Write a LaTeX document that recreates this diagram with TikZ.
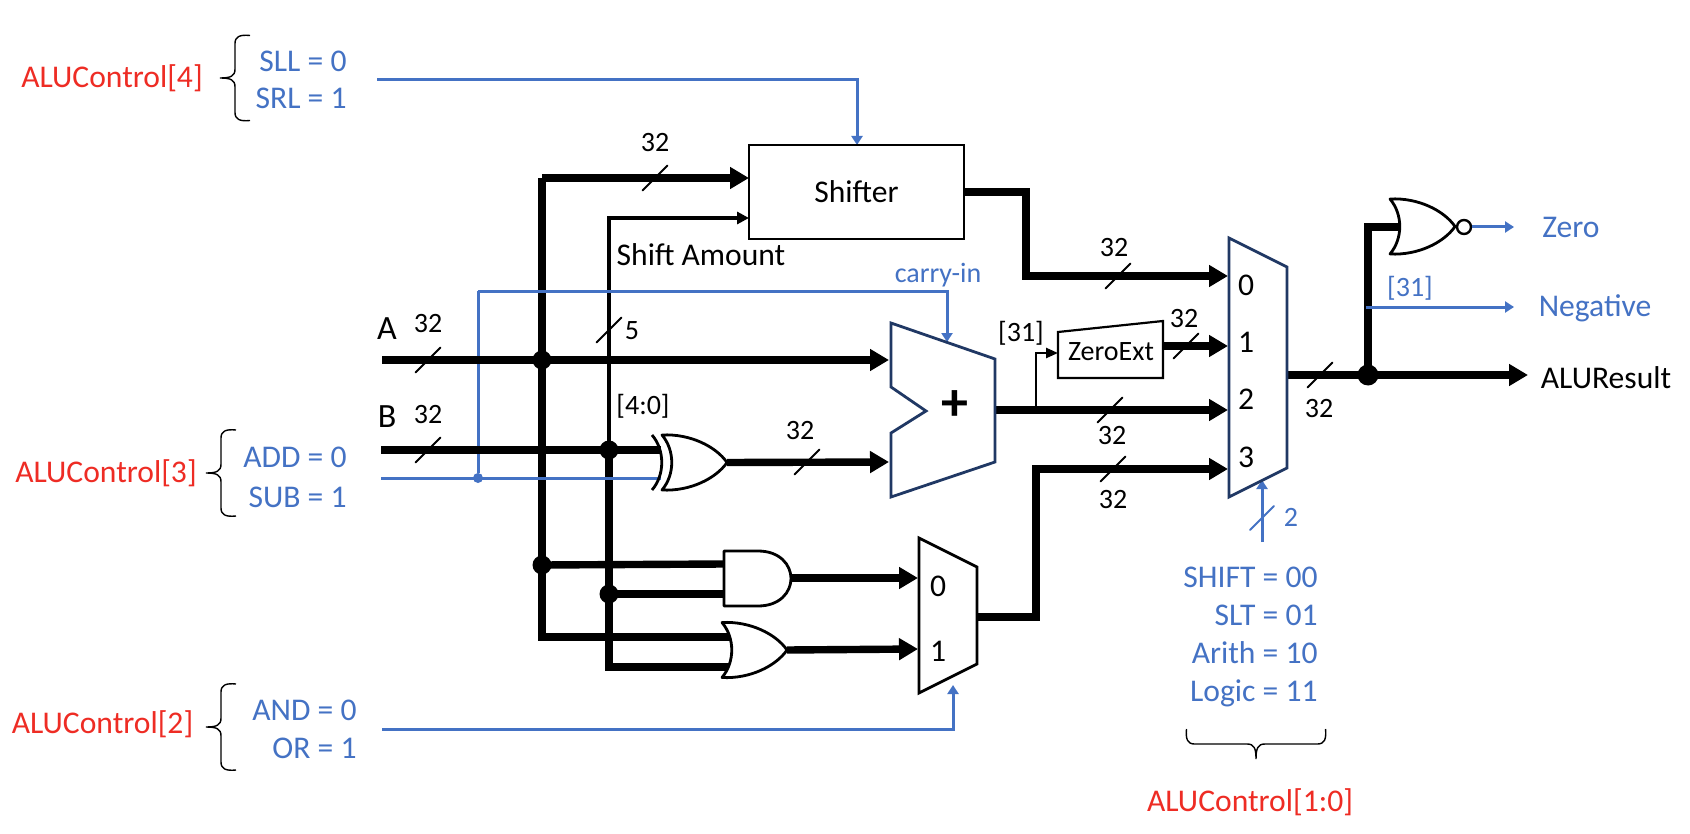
\documentclass[tikz,border=0pt]{standalone}
\usepackage{fontspec}
\setmainfont{Carlito}
\usetikzlibrary{arrows.meta, calc}
\definecolor{ALUBlue}{RGB}{68, 114, 196}
\definecolor{ALURed}{RGB}{238, 44, 36}
\definecolor{ALUNavy}{RGB}{32, 56, 100}
\tikzset{
  bigtxt/.style={font=\fontsize{15.8}{18}\selectfont, inner sep=0pt},
  smalltxt/.style={font=\fontsize{14}{16}\selectfont, inner sep=0pt},
  bluetxt/.style={bigtxt, text=ALUBlue},
  redtxt/.style={bigtxt, text=ALURed},
  buswire/.style={line width=3.7pt},
  buswirearrow/.style={buswire, -{Triangle[length=9.5pt,width=10.5pt]}},
  midwire/.style={line width=1.9pt},
  ctrlwire/.style={ALUBlue, line width=1.5pt},
  ctrlarrow/.style={ctrlwire, -{Triangle[length=4.5pt,width=5.5pt]}},
  unitline/.style={draw=black, fill=white, line width=1.4pt},
  navyline/.style={draw=ALUNavy, fill=white, line width=1.4pt},
  slashmark/.style={line width=1pt, line cap=round},
  junction/.style={circle, fill=black, inner sep=0pt, minimum size=9.5pt},
  orbody/.pic={
    \draw[unitline, line join=round] (0,-27.5) .. controls (28,-29) and (54,-16) .. (65,0) .. controls (54,16) and (28,29) .. (0,27.5)
      .. controls (13,12) and (13,-12) .. (0,-27.5) -- cycle;
    \coordinate (-out) at (65,0);
  },
  pics/sidebrace/.style={code={
    \draw[line width=0.7pt] (30,-#1) .. controls (20,-#1-1) and (15,-#1+1) .. (15,-#1+8) -- (15,-9)
      .. controls (15,-2) and (11,0) .. (0,0) .. controls (11,0) and (15,2) .. (15,9) -- (15,#1-8)
      .. controls (15,#1-1) and (20,#1+1) .. (30,#1);
  }}
}
\begin{document}
\begin{tikzpicture}[x=0.5pt,y=-0.5pt]
  \path[use as bounding box] (0,0) rectangle (1690,834);
  \fill[white] (0,0) rectangle (1690,834);

  % junctions and pins
  \node[junction] (ja) at (542,360) {};
  \node[junction] (jaand) at (542,565) {};
  \node[junction] (jb) at (609,450) {};
  \node[junction] (jband) at (609,594) {};
  \node[junction, minimum size=10.5pt] (jres) at (1368,375) {};
  \node[circle, fill=ALUBlue, inner sep=0pt, minimum size=5pt] (jsub) at (478,478) {};
  \coordinate (ain) at (382,360);
  \coordinate (bin) at (381,450);
  \coordinate (subin) at (381,478);
  \coordinate (xorb) at (661,450);
  \coordinate (xorsub) at (661,478);
  \coordinate (carrybend) at (478,291);
  \coordinate (addera) at (889,360);
  \coordinate (adderb) at (889,462);
  \coordinate (adderc) at (947,342);
  \coordinate (adderout) at (995,410);
  \coordinate (shiftin) at (749,178);
  \coordinate (shiftamt) at (749,218);
  \coordinate (shiftctrl) at (377,80);
  \coordinate (andin1) at (724,564);
  \coordinate (andin2) at (724,594);
  \coordinate (andout) at (791,578);
  \coordinate (orin1) at (731,637);
  \coordinate (orin2) at (731,667);
  \coordinate (logic0) at (918,578);
  \coordinate (logic1) at (918,649);
  \coordinate (logicout) at (977,617);
  \coordinate (logicsel) at (953,685);
  \coordinate (logicctrl) at (382,729);
  \coordinate (mux0) at (1228,276);
  \coordinate (mux1) at (1228,346);
  \coordinate (mux2) at (1228,410);
  \coordinate (mux3) at (1228,469);
  \coordinate (muxout) at (1287,375);
  \coordinate (muxsel) at (1262,480);
  \coordinate (muxctrl) at (1262,542);
  \coordinate (ext31) at (1036,410);
  \coordinate (extin) at (1058,353);
  \coordinate (extout) at (1163,346);
  \coordinate (norin) at (1402,227);
  \coordinate (negstart) at (1366,307);
  \coordinate (negend) at (1514,307);
  \coordinate (zeroend) at (1514,227);
  \coordinate (resend) at (1528,375);

  % control wires under the data wires
  \draw[ctrlwire] (jsub) -- (carrybend);

  % data wires
  \draw[midwire, -{Triangle[length=6pt,width=6pt]}] (jb.center) |- (shiftamt);
  \draw[buswire] (ain) -- (ja.center);
  \draw[buswire] (bin) -- (xorb);
  \draw[buswirearrow] (ain) -- (addera);
  \draw[buswire] (jb.center) |- (orin2);
  \draw[buswire] (ja.center |- shiftin) |- (orin1);
  \draw[buswirearrow] (ja.center |- shiftin) -- (shiftin);
  \draw[buswire] (jaand.center) -- (andin1);
  \draw[buswire] (jband.center) -- (andin2);
  \draw[buswirearrow] (andout) -- (logic0);
  \draw[buswirearrow] (adderout) -- (mux2);
  \draw[buswirearrow] (extout) -- (mux1);
  \draw[line width=1.2pt, -{Triangle[length=6pt,width=5pt]}] (ext31) |- (extin);
  \draw[buswire] (muxout) -- (jres.center);
  \draw[buswirearrow] (jres.center) -- (resend);
  \draw[buswire] (jres.center) |- (norin);

  % control wires over the data wires
  \draw[ctrlwire] (subin) -- (xorsub);
  \draw[ctrlarrow] (carrybend) -| (adderc);
  \draw[ctrlarrow] (shiftctrl) -| (857,145);
  \draw[ctrlarrow] (logicctrl) -| (logicsel);
  \draw[ctrlarrow] (muxctrl) -- (muxsel);
  \draw[ctrlarrow] (negstart) -- (negend);

  % units
  \node[draw=black, line width=1.4pt, fill=white, minimum width=107.5pt, minimum height=47pt, inner sep=0pt, bigtxt] (shifter) at (856.5,192) {Shifter};
  \draw[buswirearrow] (shifter.east) -| (1026,276) -- (mux0);
  \draw[buswirearrow] (logicout) -| (1036,469) -- (mux3);

  \draw[navyline] (891,323) -- (995,359) -- (995,462) -- (891,497) -- (891,433) -- (926,411) -- (891,387) -- cycle;
  \node[font=\fontsize{27}{29}\selectfont\bfseries, inner sep=0pt] (plus) at (955,406) {+};
  \draw[navyline] (1229,238) -- (1287,267) -- (1287,468) -- (1229,497) -- cycle;
  \draw[unitline] (919,538) -- (977,567) -- (977,664) -- (919,693) -- cycle;
  \draw[line width=1.1pt, fill=white] (1058,332) -- (1163,321) -- (1163,378) -- (1058,378) -- cycle;
  \node[font=\fontsize{14}{16}\selectfont, inner sep=0pt] (zeroext) at (1111,352) {ZeroExt};

  % gates
  \draw[unitline, line join=round] (724,551) -- (758,551) .. controls (780,551) and (791,565) .. (791,578.5)
    .. controls (791,592) and (780,606) .. (758,606) -- (724,606) -- cycle;
  \pic (orgate) at (722,650) {orbody};
  \pic (xorgate) at (662,462.5) {orbody};
  \draw[line width=1.4pt] (652,435) .. controls (665,450) and (665,475) .. (652,490);
  \pic (norgate) at (1390,226.5) {orbody};
  \draw[buswirearrow] (orgate-out) -- (logic1);
  \draw[buswirearrow] (xorgate-out) -- (adderb);
  \node[circle, draw=black, fill=white, line width=1.2pt, inner sep=0pt, minimum size=7pt] (norbubble) at (1464,227) {};
  \draw[ctrlarrow] (norbubble) -- (zeroend);

  % bus width marks
  \foreach \x/\y in {428/360, 428/450, 655/178, 807/462, 1118/276, 1186/346, 1110/410, 1113/469, 1320/375, 609/330}
    \draw[slashmark] (\x-12.5,\y+12.5) -- (\x+12.5,\y-12.5);
  \draw[slashmark, ALUBlue] (1250,530) -- (1274,506);

  % bus width labels
  \foreach \x/\y [count=\i] in {428/324, 428/415, 655/143, 800/431, 1114/248, 1184/319, 1112/436, 1113/500, 1319/409}
    \node[smalltxt] (wd\i) at (\x,\y) {32};
  \node[smalltxt] (wdamt) at (632,331) {5};
  \node[smalltxt, text=ALUBlue] (wdsel) at (1291,517) {2};

  % mux inputs
  \foreach \d/\y in {0/285, 1/342, 2/399, 3/457}
    \node[bigtxt] (muxnum\d) at (1246,\y) {\d};
  \node[bigtxt] (logicmux0) at (938,586) {0};
  \node[bigtxt] (logicmux1) at (938,651) {1};

  % signal names
  \node[bigtxt, font=\fontsize{17}{19}\selectfont] (namea) at (387,329) {A};
  \node[bigtxt, font=\fontsize{17}{19}\selectfont] (nameb) at (387,417) {B};
  \node[bigtxt] (shiftamount) at (701,255) {Shift Amount};
  \node[smalltxt] (range) at (643,406) {[4:0]};
  \node[smalltxt] (sign) at (1021,333) {[31]};
  \node[bluetxt, font=\fontsize{14}{16}\selectfont] (carry) at (938,275) {carry-in};
  \node[bluetxt, font=\fontsize{14}{16}\selectfont] (signout) at (1410,288) {[31]};
  \node[bluetxt] (zero) at (1571,227) {Zero};
  \node[bluetxt] (negative) at (1595,308) {Negative};
  \node[bigtxt] (aluresult) at (1606,378) {ALUResult};

  % control tables
  \node[redtxt] (ctrl4) at (112,78) {ALUControl[4]};
  \pic at (220,78) {sidebrace=42.5};
  \node[bluetxt, anchor=base east] (sll) at (347,72) {SLL = 0};
  \node[bluetxt, anchor=base east] (srl) at (347,109) {SRL = 1};

  \node[redtxt] (ctrl3) at (106,473) {ALUControl[3]};
  \pic at (206,473) {sidebrace=43};
  \node[bluetxt, anchor=base east] (add) at (347,467) {ADD = 0};
  \node[bluetxt, anchor=base east] (sub) at (347,507) {SUB = 1};

  \node[redtxt] (ctrl2) at (102.5,724) {ALUControl[2]};
  \pic at (206,727) {sidebrace=43};
  \node[bluetxt, anchor=base east] (and) at (357,720) {AND = 0};
  \node[bluetxt, anchor=base east] (or) at (357,758) {OR = 1};

  \foreach \t/\y [count=\i] in {SHIFT = 00/587, SLT = 01/625, Arith = 10/663, Logic = 11/701}
    \node[bluetxt, anchor=base east] (sel\i) at (1318,\y) {\t};
  \pic[rotate=90] at (1256,759) {sidebrace=69.5};
  \node[redtxt] (ctrl10) at (1250,802) {ALUControl[1:0]};
\end{tikzpicture}
\end{document}
